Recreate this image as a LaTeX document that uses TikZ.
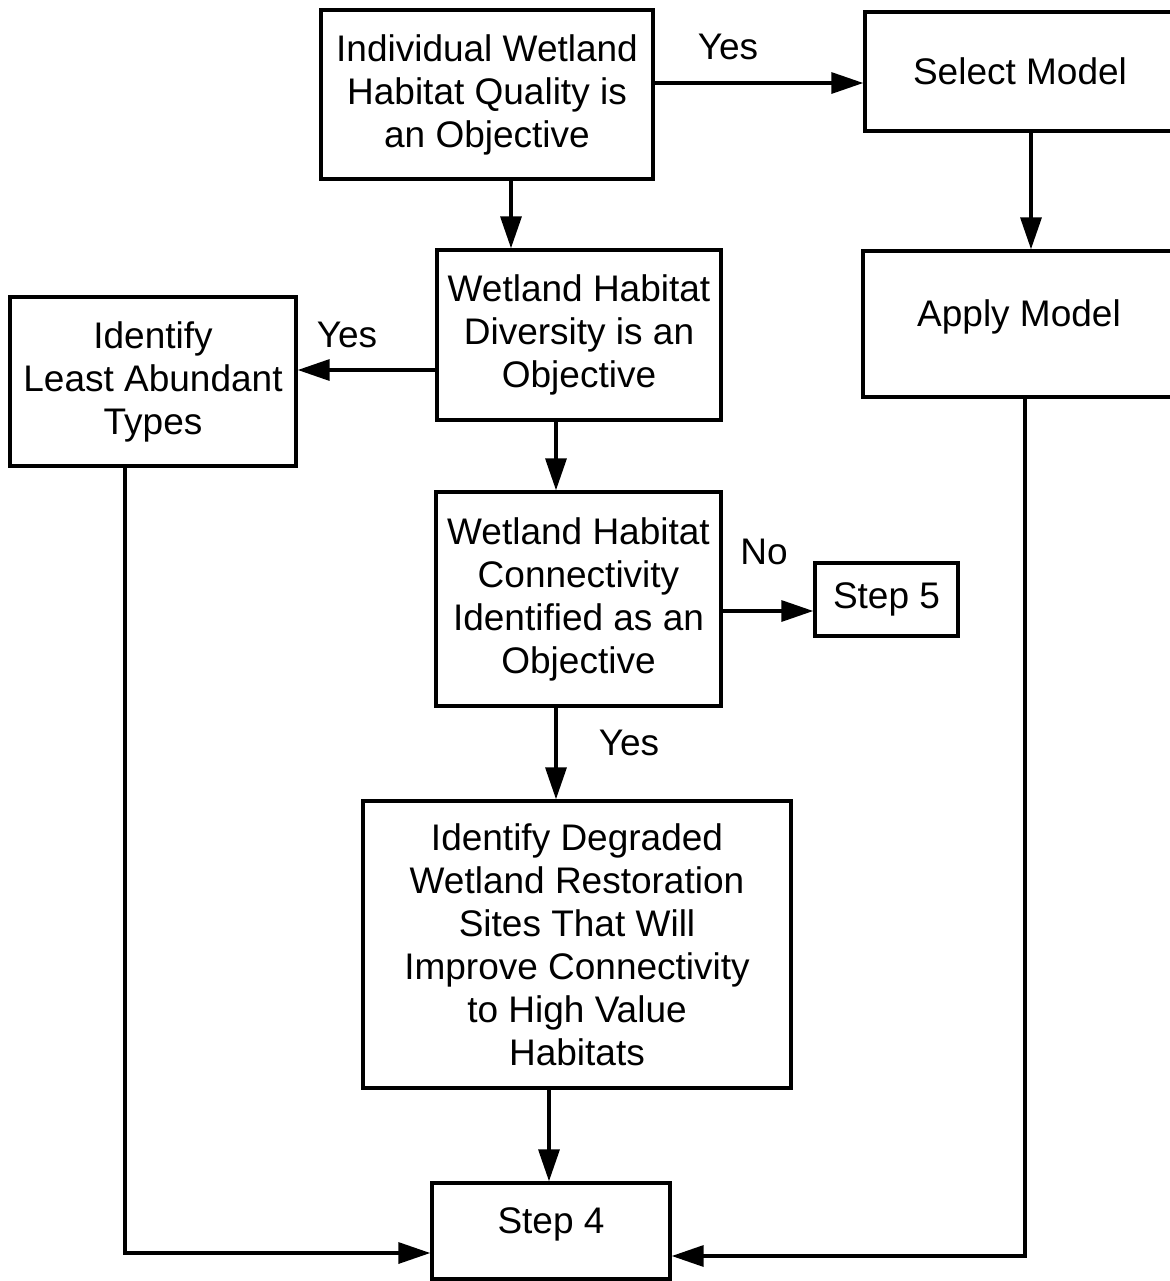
\documentclass[tikz,border=0pt]{standalone}
\usepackage{fontspec}
\setmainfont{Liberation Sans}
\usetikzlibrary{arrows.meta}
\begin{document}
\begin{tikzpicture}[x=0.5pt,y=-0.5pt,
  box/.style={draw, line width=1.7pt, inner sep=0pt, align=center,
    font=\fontsize{18.5pt}{21.5pt}\selectfont},
  lbl/.style={inner sep=0pt, font=\fontsize{18.5pt}{21.5pt}\selectfont},
  arr/.style={line width=1.7pt, -{Triangle[length=16pt,width=10.5pt]}},
  line/.style={line width=1.7pt}]
\useasboundingbox (0,0) rectangle (1169,1281);

% boxes
\node[box, minimum width=166pt, minimum height=84.5pt] (qual) at (487,94.5)
  {Individual Wetland\\Habitat Quality is\\an Objective};
\node[box, minimum width=155pt, minimum height=59.5pt] (sel) at (1020,71.5)
  {Select Model};
\node[box, minimum width=156pt, minimum height=73pt] (apply) at (1019,324)
  {\raisebox{11pt}{Apply Model}};
\node[box, minimum width=142pt, minimum height=85pt] (div) at (579,335)
  {Wetland Habitat\\Diversity is an\\Objective};
\node[box, minimum width=143pt, minimum height=84.5pt] (least) at (153,381.5)
  {Identify\\Least Abundant\\Types};
\node[box, minimum width=142.5pt, minimum height=107pt] (conn) at (578.5,599)
  {Wetland Habitat\\Connectivity\\Identified as an\\Objective};
\node[box, minimum width=71.5pt, minimum height=36.5pt] (step5) at (886.5,599.5)
  {Step 5};
\node[box, minimum width=214pt, minimum height=143.5pt] (deg) at (577,944.5)
  {Identify Degraded\\Wetland Restoration\\Sites That Will\\Improve Connectivity\\to High Value\\Habitats};
\node[box, minimum width=119pt, minimum height=48pt] (step4) at (551,1231)
  {\raisebox{10pt}{Step 4}};

% connectors
\draw[arr] ([yshift=5.75pt]qual.east) -- ([yshift=5.75pt]qual.east -| sel.west);
\draw[arr] ([xshift=12pt]qual.south) -- ([xshift=12pt]qual.south |- div.north);
\draw[arr] ([xshift=5.5pt]sel.south) -- ([xshift=5.5pt]sel.south |- apply.north);
\draw[arr] ([yshift=-17.5pt]div.west) -- ([yshift=-17.5pt]div.west -| least.east);
\draw[arr] ([xshift=-11.5pt]div.south) -- ([xshift=-11.5pt]div.south |- conn.north);
\draw[arr] ([yshift=-6pt]conn.east) -- ([yshift=-6pt]conn.east -| step5.west);
\draw[arr] ([xshift=-11.25pt]conn.south) -- ([xshift=-11.25pt]conn.south |- deg.north);
\draw[arr] ([xshift=-14pt]deg.south) -- ([xshift=-14pt]deg.south |- step4.north);
\draw[arr] ([xshift=-14pt]least.south) |- ([yshift=-11pt]step4.west);
\draw[arr] ([xshift=3pt]apply.south) |- ([yshift=-12.5pt]step4.east);

% branch labels
\node[lbl] (yes1) at (728,47) {Yes};
\node[lbl] (yes2) at (347,335) {Yes};
\node[lbl] (no1) at (764,552) {No};
\node[lbl] (yes3) at (629,743) {Yes};
\end{tikzpicture}
\end{document}
